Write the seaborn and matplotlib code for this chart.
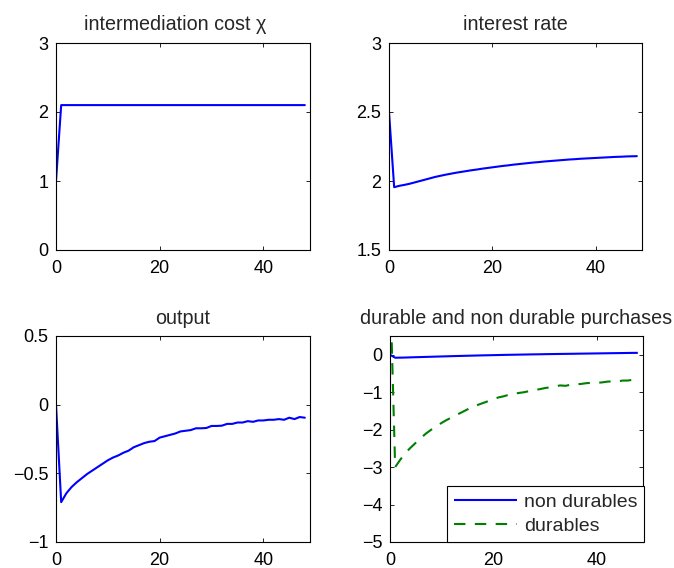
import numpy as np
import pandas as pd
import matplotlib
matplotlib.use("Agg")
import matplotlib.pyplot as plt
from matplotlib.ticker import FuncFormatter
import seaborn as sns

# ---------------- data ----------------
periods = list(range(49))

chi = [1.0] + [2.1] * 48

interest = [2.5, 1.955, 1.965, 1.972, 1.98, 1.99, 2.0, 2.01, 2.02, 2.03,
            2.038, 2.046, 2.053, 2.06, 2.066, 2.072, 2.078, 2.083, 2.089, 2.094,
            2.099, 2.104, 2.109, 2.113, 2.118, 2.122, 2.126, 2.13, 2.134, 2.137,
            2.141, 2.144, 2.147, 2.15, 2.153, 2.156, 2.158, 2.161, 2.163, 2.165,
            2.167, 2.169, 2.171, 2.173, 2.175, 2.176, 2.178, 2.179, 2.18]

output = [0.0, -0.71, -0.645, -0.60, -0.565, -0.535, -0.505, -0.48, -0.455, -0.43,
          -0.405, -0.385, -0.37, -0.35, -0.335, -0.31, -0.295, -0.28, -0.27, -0.265,
          -0.24, -0.23, -0.22, -0.21, -0.195, -0.19, -0.185, -0.172, -0.172, -0.17,
          -0.155, -0.155, -0.153, -0.14, -0.14, -0.13, -0.13, -0.12, -0.125, -0.115,
          -0.115, -0.11, -0.11, -0.105, -0.11, -0.095, -0.105, -0.09, -0.095]

nondurables = [0.0, -0.08, -0.078, -0.075, -0.07, -0.066, -0.062, -0.058, -0.054, -0.05,
               -0.046, -0.042, -0.038, -0.034, -0.031, -0.027, -0.024, -0.02, -0.017, -0.014,
               -0.011, -0.008, -0.005, -0.002, 0.0, 0.003, 0.005, 0.008, 0.01, 0.012,
               0.015, 0.017, 0.019, 0.021, 0.023, 0.025, 0.027, 0.029, 0.031, 0.033,
               0.035, 0.037, 0.039, 0.041, 0.043, 0.045, 0.047, 0.049, 0.05]

durables = [2.0, -3.0, -2.8, -2.62, -2.48, -2.35, -2.22, -2.1, -2.0, -1.91,
            -1.82, -1.74, -1.67, -1.6, -1.53, -1.46, -1.39, -1.34, -1.29, -1.24,
            -1.19, -1.14, -1.11, -1.07, -1.04, -1.02, -1.0, -0.97, -0.94, -0.92,
            -0.89, -0.87, -0.84, -0.82, -0.83, -0.8, -0.79, -0.78, -0.76, -0.75,
            -0.75, -0.74, -0.72, -0.71, -0.72, -0.69, -0.69, -0.67, -0.68]

titles = ["intermediation cost \u03c7", "interest rate", "output",
          "durable and non durable purchases"]
legend_labels = ["non durables", "durables"]
xticks = [0, 20, 40]
yticks_chi = [0, 1, 2, 3]
yticks_rate = [1.5, 2, 2.5, 3]
yticks_out = [-1, -0.5, 0, 0.5]
yticks_dur = [-5, -4, -3, -2, -1, 0]

# ---------------- style ----------------
sns.set_style("ticks")
plt.rcParams['font.family'] = ['Liberation Sans', 'DejaVu Sans']
plt.rcParams['axes.unicode_minus'] = True

W, H = 674, 568
fig = plt.figure(figsize=(W / 100, H / 100), dpi=100)

def ax_at(l, r, t, b):
    return fig.add_axes([l / W, 1 - b / H, (r - l) / W, (b - t) / H])

ax1 = ax_at(56, 310, 43, 250)
ax2 = ax_at(389, 642, 43, 250)
ax3 = ax_at(56, 310, 336, 542)
ax4 = ax_at(390, 643, 336, 542)

BLUE = (0, 0, 1)
GREEN = (0, 0.5, 0)
LW = 1.5

fmt = FuncFormatter(lambda v, p: ("%g" % v).replace("-", "\u2212"))

def style(ax, title, yticks, ylim, tx=0.5):
    ax.set_xlim(0, 49)
    ax.set_ylim(*ylim)
    ax.set_xticks(xticks)
    ax.set_yticks(yticks)
    ax.xaxis.set_major_formatter(fmt)
    ax.yaxis.set_major_formatter(fmt)
    for s in ax.spines.values():
        s.set_visible(True)
        s.set_color("black")
        s.set_linewidth(0.8)
    ax.tick_params(direction="in", length=3, width=0.6, top=True, right=True,
                   labelsize=13, colors="black")
    ax.tick_params(axis="x", pad=7.5)
    ax.tick_params(axis="y", pad=5.5)
    ax.set_title(title, fontsize=14.2, pad=9, x=tx)
    ax.set_xlabel("")
    ax.set_ylabel("")

sns.lineplot(x=periods, y=chi, ax=ax1, color=BLUE, linewidth=LW)
style(ax1, titles[0], yticks_chi, (0, 3), tx=0.47)

sns.lineplot(x=periods, y=interest, ax=ax2, color=BLUE, linewidth=LW)
style(ax2, titles[1], yticks_rate, (1.5, 3))

sns.lineplot(x=periods, y=output, ax=ax3, color=BLUE, linewidth=LW)
style(ax3, titles[2], yticks_out, (-1, 0.5))

df = pd.DataFrame({
    "t": periods * 2,
    "v": nondurables + durables,
    "series": [legend_labels[0]] * len(periods) + [legend_labels[1]] * len(periods),
})
sns.lineplot(data=df, x="t", y="v", hue="series", style="series",
             palette=[BLUE, GREEN], dashes=[(1, 0), (5.5, 4.5)],
             linewidth=LW, ax=ax4)
style(ax4, titles[3], yticks_dur, (-5, 0.5))
leg = ax4.legend(loc="lower right", bbox_to_anchor=(1.004, 0), borderaxespad=0,
                 fontsize=14, handlelength=3.25, handletextpad=0.35,
                 labelspacing=0.35, borderpad=0.35, fancybox=False,
                 framealpha=1, edgecolor="black", title=None)
leg.get_frame().set_linewidth(0.8)
for h in leg.get_lines():
    h.set_linewidth(LW)

fig.savefig("out.png", dpi=100)
